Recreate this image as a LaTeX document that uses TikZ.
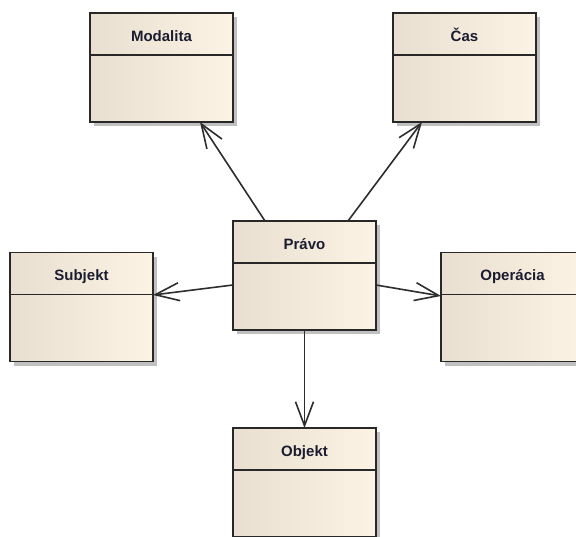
\documentclass[tikz,border=0pt]{standalone}
\usepackage{fontspec}
\setmainfont{Liberation Sans}
\usetikzlibrary{arrows.meta,shadows}

\definecolor{boxleft}{RGB}{232,223,208}
\definecolor{boxright}{RGB}{252,243,229}
\definecolor{boxline}{RGB}{40,40,40}
\definecolor{boxshadow}{RGB}{192,192,192}
\definecolor{linkline}{RGB}{45,45,45}
\definecolor{nametext}{RGB}{28,28,48}

\tikzset{
  classbox/.style={
    draw=boxline, line width=1.8pt,
    left color=boxleft, right color=boxright,
    minimum width=143pt, minimum height=109pt,
    inner sep=0pt, outer sep=0pt,
    general shadow={shadow xshift=4pt, shadow yshift=-4pt, fill=boxshadow}
  },
  classname/.style={font=\bfseries\fontsize{15}{17}\selectfont, text=nametext,
    inner sep=0pt, anchor=base},
  divider/.style={draw=boxline, line width=1.8pt},
  link/.style={draw=linkline, line width=1.6pt,
    -{Straight Barb[length=24pt,width=18pt,line width=1.6pt]}}
}

\newcommand{\classnode}[3]{%
  \node[classbox] (#1) at (#2) {};
  \node[classname] (#1-name) at ([yshift=-28pt]#1.north) {#3};
  \draw[divider] ([yshift=-42pt]#1.north west) -- ([yshift=-42pt]#1.north east);
}

\begin{document}
\begin{tikzpicture}[x=1pt,y=-1pt]
  \useasboundingbox (0,0) rectangle (576,536);
  \clip (0,0) rectangle (576,536);
  \fill[white] (0,0) rectangle (576,536);

  \classnode{modalita}{161.5,67.5}{Modalita}
  \classnode{cas}{464.5,67.5}{Čas}
  \classnode{pravo}{304.5,275.5}{Právo}
  \classnode{subjekt}{81.5,307}{Subjekt}
  \classnode{operacia}{512.5,307}{Operácia}
  \classnode{objekt}{304.5,482.5}{Objekt}

  \draw[link] ([xshift=-39.5pt]pravo.north) -- ([xshift=38.5pt]modalita.south);
  \draw[link] ([xshift=43.5pt]pravo.north) -- ([xshift=-42.5pt]cas.south);
  \draw[link] ([yshift=-9.5pt]pravo.west) -- ([yshift=12pt]subjekt.east);
  \draw[link] ([yshift=-9.5pt]pravo.east) -- ([yshift=11pt]operacia.west);
  \draw[link] (pravo.south) -- (objekt.north);
\end{tikzpicture}
\end{document}
